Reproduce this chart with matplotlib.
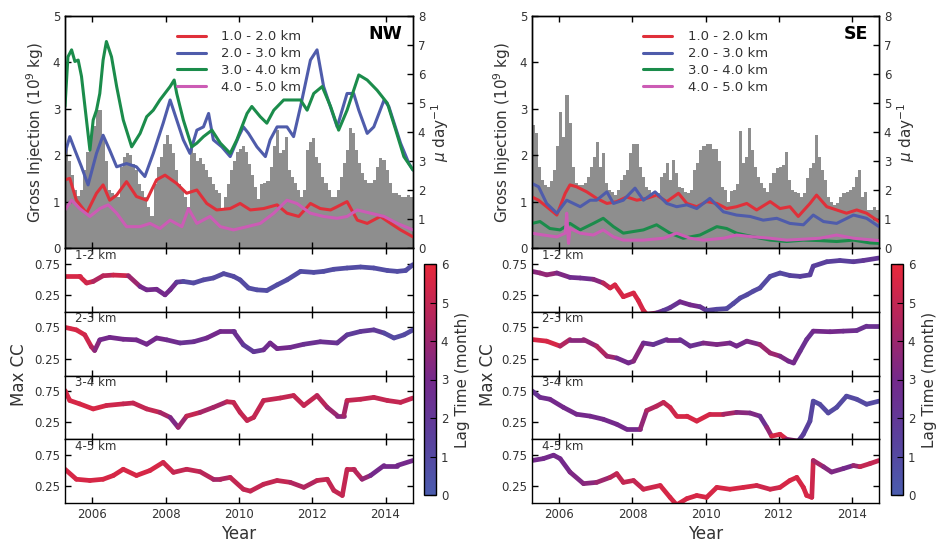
import numpy as np
import matplotlib
matplotlib.use('Agg')
import matplotlib.pyplot as plt
from matplotlib.collections import LineCollection
from matplotlib.colors import LinearSegmentedColormap, Normalize
from matplotlib.cm import ScalarMappable

plt.rcParams['font.family'] = ['DejaVu Sans']

# ---------------- data ----------------
# monthly bars (mu day^-1), Apr 2005 .. Sep 2014
nw_bars = [3.4, 3.0, 2.5, 2.0, 1.8, 2.0, 2.7, 3.3, 3.8,
           4.2, 4.75, 4.75, 3.8, 3.0, 2.0, 1.9, 1.8, 1.75, 2.8, 3.15, 3.26,
           3.2, 2.9, 2.7, 2.2, 1.95, 1.77, 1.4, 1.1, 2.2, 2.8, 3.15, 3.6,
           3.9, 3.6, 3.26, 2.7, 2.2, 2.0, 1.77, 1.4, 3.4, 3.26, 3.0, 3.1,
           2.9, 2.7, 2.46, 2.2, 2.0, 1.9, 1.3, 1.77, 2.2, 2.7, 3.0, 3.3,
           3.4, 3.5, 3.3, 2.9, 2.5, 2.1, 1.7, 2.2, 2.23, 2.3, 2.8, 3.5,
           4.07, 3.26, 3.38, 3.84, 2.7, 2.46, 2.23, 2.0, 1.77, 2.0, 3.38, 3.67,
           3.78, 3.15, 2.92, 2.46, 2.23, 2.0, 1.77, 1.77, 2.0, 2.46, 2.92, 3.38,
           4.13, 3.95, 3.38, 2.92, 2.57, 2.34, 2.23, 2.23, 2.34, 2.8, 3.1, 3.03,
           2.7, 2.23, 1.9, 1.9, 1.83, 1.77, 1.77, 1.83, 1.77]
se_bars = [4.24, 3.95, 2.8, 2.34, 2.17, 2.1, 2.3, 2.7, 3.5,
           4.7, 3.84, 5.28, 4.3, 2.8, 2.23, 2.17, 2.17, 2.23, 2.46, 2.8, 3.15,
           3.67, 2.8, 3.26, 2.23, 2.0, 1.94, 1.83, 2.0, 2.34, 2.52, 2.7, 3.26,
           3.6, 3.6, 2.8, 2.46, 2.1, 2.0, 1.77, 1.77, 1.9, 2.46, 2.57, 2.92,
           2.34, 3.03, 2.57, 2.1, 2.06, 1.94, 1.9, 2.0, 2.7, 2.92, 3.38, 3.5,
           3.6, 3.6, 3.4, 3.4, 3.0, 2.1, 2.0, 1.6, 1.95, 2.0, 2.2, 4.05,
           2.92, 3.15, 4.13, 3.38, 2.8, 2.46, 2.23, 2.06, 1.94, 2.23, 2.57, 2.75,
           2.8, 2.86, 3.32, 2.34, 2.0, 1.94, 1.9, 1.77, 1.9, 2.4, 2.75, 2.92,
           3.9, 3.15, 2.7, 2.34, 1.77, 1.6, 1.48, 1.54, 1.77, 1.9, 1.94, 2.0,
           2.1, 2.46, 2.7, 1.77, 1.94, 1.3, 1.3, 1.43, 1.3]

# gross injection (10^9 kg), NW
nw_yr_1 = [2005.25, 2005.38, 2005.56, 2005.84, 2006.11, 2006.29, 2006.47, 2006.66, 2006.93, 2007.20,
           2007.48, 2007.75, 2007.98, 2008.30, 2008.57, 2008.85, 2009.12, 2009.39, 2009.76, 2010.03,
           2010.31, 2010.67, 2011.04, 2011.31, 2011.63, 2011.95, 2012.22, 2012.50, 2012.68, 2012.95,
           2013.23, 2013.50, 2013.86, 2014.14, 2014.41, 2014.75]
nw_gi_1 = [1.47, 1.5, 1.03, 0.75, 1.18, 1.36, 1.03, 1.14, 1.43, 1.11,
           1.03, 1.47, 1.57, 1.39, 1.18, 1.25, 0.96, 0.82, 0.85, 0.96,
           0.82, 0.85, 0.93, 0.75, 0.68, 0.96, 0.85, 0.82, 0.89, 1.0,
           0.6, 0.53, 0.68, 0.53, 0.39, 0.24]
nw_yr_2 = [2005.25, 2005.38, 2005.52, 2005.70, 2005.88, 2006.11, 2006.29, 2006.47, 2006.66, 2006.93,
           2007.20, 2007.43, 2007.66, 2007.93, 2008.12, 2008.30, 2008.48, 2008.66, 2008.85, 2009.03,
           2009.17, 2009.30, 2009.53, 2009.76, 2009.99, 2010.12, 2010.26, 2010.49, 2010.72, 2010.85,
           2011.04, 2011.31, 2011.49, 2011.68, 2011.95, 2012.13, 2012.31, 2012.68, 2012.95, 2013.13,
           2013.27, 2013.50, 2013.68, 2013.96, 2014.09, 2014.41, 2014.64, 2014.75]
nw_gi_2 = [2.04, 2.4, 2.11, 1.75, 1.36, 2.04, 2.43, 2.11, 1.75, 1.82,
           1.75, 1.54, 2.04, 2.69, 3.19, 2.76, 2.33, 2.04, 2.54, 2.61,
           2.9, 2.33, 2.18, 1.97, 2.4, 2.61, 2.47, 2.18, 1.97, 2.33,
           2.61, 2.61, 2.4, 3.05, 4.05, 4.27, 3.48, 2.61, 3.33, 3.33,
           2.97, 2.47, 2.61, 3.19, 3.05, 2.26, 1.82, 1.68]
nw_yr_3 = [2005.25, 2005.33, 2005.43, 2005.52, 2005.61, 2005.70, 2005.93, 2006.02, 2006.11, 2006.20,
           2006.29, 2006.38, 2006.52, 2006.66, 2006.84, 2007.07, 2007.30, 2007.48, 2007.66, 2007.84,
           2008.12, 2008.23, 2008.30, 2008.48, 2008.71, 2008.85, 2009.03, 2009.26, 2009.49, 2009.76,
           2009.94, 2010.22, 2010.35, 2010.58, 2010.76, 2010.95, 2011.22, 2011.40, 2011.68, 2011.86,
           2012.04, 2012.27, 2012.50, 2012.72, 2012.95, 2013.27, 2013.50, 2013.77, 2014.05, 2014.28,
           2014.50, 2014.75]
nw_gi_3 = [3.05, 4.12, 4.27, 4.02, 4.05, 3.7, 2.11, 2.76, 2.97, 3.33,
           4.05, 4.45, 4.12, 3.48, 2.76, 2.18, 2.47, 2.83, 2.97, 3.19,
           3.48, 3.62, 3.33, 2.76, 2.18, 2.26, 2.4, 2.54, 2.26, 2.04,
           2.33, 2.9, 3.05, 2.83, 2.69, 2.97, 3.19, 3.19, 3.19, 2.97,
           3.33, 3.48, 3.05, 2.54, 2.97, 3.73, 3.62, 3.4, 3.12, 2.54,
           1.97, 1.68]
nw_yr_4 = [2005.25, 2005.43, 2005.65, 2005.93, 2006.20, 2006.43, 2006.66, 2006.93, 2007.30, 2007.57,
           2007.84, 2008.12, 2008.44, 2008.62, 2008.85, 2009.21, 2009.49, 2009.85, 2010.22, 2010.58,
           2010.95, 2011.31, 2011.58, 2011.95, 2012.31, 2012.68, 2012.95, 2013.23, 2013.59, 2013.96,
           2014.32, 2014.75]
nw_gi_4 = [0.82, 1.03, 0.85, 0.68, 0.85, 0.93, 0.75, 0.46, 0.46, 0.53,
           0.42, 0.6, 0.46, 0.85, 0.53, 0.68, 0.46, 0.39, 0.46, 0.53,
           0.75, 1.03, 0.96, 0.75, 0.68, 0.64, 0.68, 0.82, 0.75, 0.68,
           0.53, 0.39]

# gross injection (10^9 kg), SE
se_yr_1 = [2005.25, 2005.43, 2005.65, 2005.93, 2006.16, 2006.29, 2006.47, 2006.75, 2007.02, 2007.30,
           2007.57, 2007.84, 2008.12, 2008.39, 2008.66, 2008.94, 2009.26, 2009.49, 2009.76, 2010.03,
           2010.31, 2010.58, 2010.85, 2011.13, 2011.40, 2011.77, 2012.04, 2012.31, 2012.54, 2012.86,
           2013.04, 2013.32, 2013.59, 2013.86, 2014.14, 2014.41, 2014.75]
se_gi_1 = [1.1, 1.03, 0.89, 0.71, 1.18, 1.36, 1.32, 1.21, 1.07, 0.96,
           1.0, 1.1, 1.03, 1.07, 1.14, 1.0, 1.18, 0.96, 0.89, 1.0,
           0.96, 0.85, 0.89, 0.96, 0.82, 1.0, 0.85, 0.89, 0.68, 0.96,
           1.14, 0.89, 0.82, 0.75, 0.82, 0.75, 0.57]
se_yr_2 = [2005.25, 2005.43, 2005.65, 2005.93, 2006.20, 2006.57, 2006.84, 2007.02, 2007.30, 2007.48,
           2007.75, 2008.07, 2008.30, 2008.62, 2008.94, 2009.21, 2009.49, 2009.76, 2010.12, 2010.49,
           2010.85, 2011.22, 2011.58, 2011.95, 2012.31, 2012.68, 2012.95, 2013.23, 2013.59, 2014.05,
           2014.41, 2014.75]
se_gi_2 = [1.39, 1.32, 0.96, 0.75, 1.03, 0.89, 1.03, 1.03, 1.21, 0.96,
           1.03, 1.29, 1.03, 1.21, 0.96, 0.89, 0.93, 0.85, 1.07, 0.78,
           0.71, 0.68, 0.6, 0.64, 0.53, 0.5, 0.71, 0.57, 0.53, 0.71,
           0.64, 0.46]
se_yr_3 = [2005.25, 2005.47, 2005.74, 2006.02, 2006.29, 2006.57, 2006.93, 2007.20, 2007.48, 2007.75,
           2008.30, 2008.66, 2009.03, 2009.39, 2009.85, 2010.31, 2010.58, 2010.85, 2011.31, 2011.77,
           2012.22, 2012.68, 2013.13, 2013.59, 2014.05, 2014.50, 2014.75]
se_gi_3 = [0.53, 0.57, 0.42, 0.39, 0.53, 0.39, 0.53, 0.64, 0.46, 0.32,
           0.39, 0.5, 0.32, 0.21, 0.28, 0.46, 0.42, 0.32, 0.24, 0.17,
           0.14, 0.17, 0.16, 0.14, 0.17, 0.11, 0.1]
se_yr_4 = [2005.25, 2005.56, 2005.93, 2006.16, 2006.20, 2006.25, 2006.29, 2006.57, 2006.93, 2007.20,
           2007.48, 2007.75, 2008.30, 2008.85, 2009.21, 2009.58, 2009.94, 2010.49, 2010.85, 2011.31,
           2011.77, 2012.22, 2012.68, 2013.13, 2013.59, 2014.05, 2014.75]
se_gi_4 = [0.32, 0.28, 0.24, 0.32, 0.75, 0.1, 0.42, 0.32, 0.28, 0.39,
           0.24, 0.17, 0.17, 0.21, 0.32, 0.21, 0.17, 0.21, 0.28, 0.24,
           0.21, 0.17, 0.19, 0.21, 0.28, 0.21, 0.16]

# max cross-correlation and lag time (month), NW
nw_cc_yr_1 = [2005.25, 2005.65, 2005.84, 2006.02, 2006.29, 2006.57, 2006.98, 2007.30, 2007.48, 2007.75,
              2007.98, 2008.12, 2008.30, 2008.48, 2008.76, 2009.03, 2009.30, 2009.58, 2009.85, 2010.03,
              2010.26, 2010.49, 2010.76, 2011.04, 2011.31, 2011.68, 2012.04, 2012.31, 2012.59, 2012.95,
              2013.32, 2013.68, 2014.05, 2014.32, 2014.55, 2014.75]
nw_cc_1 = [0.546, 0.546, 0.44, 0.465, 0.556, 0.567, 0.556, 0.384, 0.33, 0.34,
           0.25, 0.33, 0.454, 0.465, 0.44, 0.49, 0.52, 0.59, 0.546, 0.49,
           0.36, 0.33, 0.32, 0.41, 0.49, 0.626, 0.61, 0.626, 0.66, 0.68,
           0.696, 0.68, 0.64, 0.626, 0.64, 0.734]
nw_lag_1 = [5.5, 5.5, 5.5, 5.0, 4.0, 5.5, 5.0, 3.0, 3.0, 3.0,
            3.0, 3.0, 2.5, 1.0, 1.0, 1.0, 1.0, 1.0, 1.0, 1.0,
            0.8, 0.8, 0.8, 0.8, 0.8, 0.8, 0.8, 0.8, 0.8, 0.8,
            0.8, 0.8, 0.8, 0.8, 0.8, 0.8]
nw_cc_yr_2 = [2005.25, 2005.56, 2005.79, 2005.97, 2006.06, 2006.20, 2006.47, 2006.84, 2007.20, 2007.48,
              2007.75, 2008.03, 2008.39, 2008.76, 2009.12, 2009.49, 2009.85, 2010.12, 2010.40, 2010.67,
              2010.85, 2011.04, 2011.40, 2011.77, 2012.22, 2012.68, 2012.95, 2013.32, 2013.68, 2013.96,
              2014.23, 2014.50, 2014.75]
nw_cc_2 = [0.75, 0.71, 0.63, 0.44, 0.38, 0.55, 0.59, 0.56, 0.55, 0.48,
           0.58, 0.55, 0.5, 0.52, 0.58, 0.685, 0.685, 0.47, 0.36, 0.39,
           0.5, 0.41, 0.43, 0.48, 0.52, 0.5, 0.63, 0.685, 0.71, 0.66,
           0.58, 0.63, 0.71]
nw_lag_2 = [5.5, 5.5, 5.5, 5.0, 4.0, 3.0, 3.0, 3.0, 3.0, 3.0,
            3.0, 3.0, 2.5, 2.2, 3.0, 3.0, 3.0, 2.0, 1.5, 2.5,
            3.0, 3.0, 3.0, 2.5, 2.5, 2.5, 2.0, 1.5, 2.5, 1.2,
            1.0, 1.0, 1.0]
nw_cc_yr_3 = [2005.25, 2005.38, 2005.65, 2006.02, 2006.38, 2006.84, 2007.11, 2007.48, 2007.84, 2008.12,
              2008.34, 2008.57, 2008.94, 2009.30, 2009.67, 2009.85, 2010.03, 2010.22, 2010.40, 2010.67,
              2011.13, 2011.49, 2011.77, 2012.13, 2012.41, 2012.68, 2012.86, 2012.95, 2013.32, 2013.68,
              2014.05, 2014.41, 2014.75]
nw_cc_3 = [0.76, 0.6, 0.546, 0.465, 0.52, 0.546, 0.56, 0.465, 0.41, 0.33,
           0.17, 0.35, 0.41, 0.49, 0.58, 0.57, 0.41, 0.28, 0.33, 0.6,
           0.64, 0.68, 0.52, 0.68, 0.49, 0.36, 0.36, 0.6, 0.62, 0.65,
           0.6, 0.57, 0.64]
nw_lag_3 = [5.5, 5.5, 5.5, 5.5, 5.5, 5.0, 5.0, 5.0, 5.0, 3.5,
            3.0, 5.0, 5.0, 3.5, 5.0, 5.0, 5.0, 5.0, 5.0, 5.0,
            5.0, 5.0, 5.0, 5.0, 4.5, 3.5, 3.5, 5.0, 5.0, 5.0,
            5.0, 5.0, 5.0]
nw_cc_yr_4 = [2005.25, 2005.56, 2005.93, 2006.29, 2006.57, 2006.84, 2007.20, 2007.57, 2007.93, 2008.21,
              2008.57, 2008.94, 2009.30, 2009.49, 2009.76, 2010.12, 2010.31, 2010.67, 2011.04, 2011.40,
              2011.77, 2012.13, 2012.41, 2012.59, 2012.82, 2012.95, 2013.13, 2013.36, 2013.59, 2013.96,
              2014.32, 2014.75]
nw_cc_4 = [0.52, 0.36, 0.34, 0.36, 0.42, 0.52, 0.42, 0.5, 0.63, 0.47,
           0.52, 0.48, 0.36, 0.36, 0.39, 0.2, 0.17, 0.28, 0.34, 0.31,
           0.23, 0.34, 0.36, 0.18, 0.1, 0.52, 0.52, 0.36, 0.42, 0.58,
           0.58, 0.66]
nw_lag_4 = [5.5, 5.5, 5.5, 5.5, 5.5, 5.5, 5.5, 5.5, 5.5, 5.0,
            5.0, 5.0, 4.5, 4.0, 5.0, 5.0, 5.0, 5.0, 5.0, 5.0,
            4.0, 5.0, 5.0, 5.0, 5.0, 5.0, 5.0, 4.5, 3.0, 3.0,
            3.0, 3.0]

# max cross-correlation and lag time (month), SE
se_cc_yr_1 = [2005.25, 2005.47, 2005.65, 2005.93, 2006.29, 2006.57, 2006.93, 2007.20, 2007.39, 2007.52,
              2007.75, 2008.03, 2008.16, 2008.30, 2008.39, 2008.66, 2008.85, 2009.03, 2009.30, 2009.58,
              2009.85, 2010.03, 2010.31, 2010.58, 2010.76, 2010.95, 2011.13, 2011.31, 2011.49, 2011.77,
              2012.04, 2012.31, 2012.59, 2012.86, 2012.95, 2013.32, 2013.68, 2014.05, 2014.32, 2014.75]
se_cc_1 = [0.626, 0.6, 0.57, 0.6, 0.53, 0.52, 0.5, 0.44, 0.36, 0.41,
           0.22, 0.28, 0.16, 0.0, -0.06, -0.04, 0.0, 0.045, 0.14, 0.09,
           0.06, 0.0, 0.02, 0.03, 0.11, 0.2, 0.25, 0.31, 0.36, 0.546,
           0.6, 0.56, 0.546, 0.57, 0.71, 0.78, 0.8, 0.78, 0.8, 0.84]
se_lag_1 = [3.5, 3.5, 4.0, 3.5, 3.0, 2.5, 3.0, 4.0, 5.5, 5.5,
            5.5, 5.5, 5.5, 5.5, 5.5, 3.0, 2.0, 1.5, 3.0, 3.0,
            3.0, 1.5, 1.2, 1.0, 1.0, 1.0, 1.0, 1.0, 1.0, 1.0,
            1.0, 1.2, 1.5, 1.5, 1.5, 1.5, 1.5, 1.5, 2.0, 2.0]
se_cc_yr_2 = [2005.25, 2005.65, 2006.02, 2006.29, 2006.66, 2007.02, 2007.30, 2007.57, 2007.89, 2008.03,
              2008.30, 2008.57, 2008.94, 2009.30, 2009.58, 2009.94, 2010.31, 2010.67, 2010.85, 2011.13,
              2011.49, 2011.77, 2012.04, 2012.27, 2012.41, 2012.59, 2012.77, 2012.95, 2013.41, 2013.77,
              2014.14, 2014.41, 2014.75]
se_cc_2 = [0.556, 0.53, 0.45, 0.556, 0.556, 0.45, 0.29, 0.26, 0.18, 0.21,
           0.5, 0.475, 0.556, 0.556, 0.45, 0.5, 0.475, 0.5, 0.45, 0.53,
           0.475, 0.34, 0.29, 0.21, 0.18, 0.37, 0.556, 0.69, 0.68, 0.69,
           0.7, 0.77, 0.77]
se_lag_2 = [5.5, 5.5, 5.5, 3.5, 3.5, 4.0, 5.0, 3.0, 3.0, 3.0,
            4.0, 1.5, 3.0, 3.0, 2.0, 3.0, 3.5, 3.0, 3.0, 3.0,
            3.5, 4.5, 3.5, 3.0, 3.0, 3.0, 2.0, 3.0, 3.0, 3.0,
            2.5, 2.5, 2.5]
se_cc_yr_3 = [2005.25, 2005.47, 2005.74, 2006.11, 2006.47, 2006.84, 2007.20, 2007.57, 2007.84, 2008.21,
              2008.39, 2008.66, 2008.85, 2009.03, 2009.21, 2009.49, 2009.76, 2010.12, 2010.49, 2010.85,
              2011.22, 2011.49, 2011.68, 2011.81, 2012.04, 2012.22, 2012.54, 2012.68, 2012.86, 2012.95,
              2013.13, 2013.36, 2013.59, 2013.86, 2014.14, 2014.41, 2014.75]
se_cc_3 = [0.755, 0.65, 0.62, 0.49, 0.38, 0.35, 0.3, 0.22, 0.14, 0.14,
           0.44, 0.51, 0.57, 0.49, 0.35, 0.35, 0.27, 0.38, 0.38, 0.41,
           0.4, 0.35, 0.17, 0.03, 0.06, -0.02, -0.05, 0.06, 0.27, 0.59,
           0.54, 0.4, 0.49, 0.67, 0.62, 0.54, 0.59]
se_lag_3 = [2.0, 2.5, 3.0, 3.0, 3.0, 3.0, 3.0, 3.0, 3.0, 3.0,
            4.5, 4.5, 5.0, 5.0, 5.5, 5.5, 5.5, 5.5, 5.0, 3.5,
            3.5, 3.0, 2.0, 5.5, 5.5, 5.5, 2.0, 1.5, 1.5, 1.0,
            1.0, 1.0, 1.0, 1.0, 1.0, 1.0, 1.0]
se_cc_yr_4 = [2005.25, 2005.56, 2005.84, 2006.02, 2006.29, 2006.66, 2007.02, 2007.39, 2007.57, 2007.75,
              2008.03, 2008.30, 2008.76, 2009.03, 2009.21, 2009.49, 2009.76, 2010.03, 2010.31, 2010.67,
              2011.04, 2011.40, 2011.77, 2012.04, 2012.31, 2012.50, 2012.68, 2012.77, 2012.91, 2012.95,
              2013.23, 2013.45, 2013.77, 2014.05, 2014.23, 2014.50, 2014.75]
se_cc_4 = [0.66, 0.69, 0.745, 0.69, 0.475, 0.29, 0.31, 0.39, 0.45, 0.31,
           0.34, 0.2, 0.26, 0.07, -0.05, 0.05, 0.1, 0.07, 0.23, 0.2,
           0.23, 0.26, 0.2, 0.23, 0.34, 0.39, 0.23, 0.1, 0.07, 0.66,
           0.56, 0.475, 0.53, 0.58, 0.56, 0.61, 0.66]
se_lag_4 = [3.0, 3.0, 3.0, 3.0, 3.0, 3.5, 3.5, 4.5, 5.0, 5.0,
            5.0, 5.0, 5.5, 5.5, 5.5, 5.5, 5.5, 5.5, 5.5, 5.5,
            5.5, 5.5, 5.0, 5.5, 5.5, 5.5, 5.5, 5.5, 5.5, 5.0,
            3.5, 3.5, 3.0, 3.0, 5.0, 5.0, 5.0]

depth_labels = ['1.0 - 2.0 km', '2.0 - 3.0 km', '3.0 - 4.0 km', '4.0 - 5.0 km']
panel_labels = ['1-2 km', '2-3 km', '3-4 km', '4-5 km']
line_colors = ['#e0303a', '#4f5cab', '#1b8c4b', '#cc5cb5']
year_ticks = [2006, 2008, 2010, 2012, 2014]

# ---------------- figure ----------------
W, H = 939, 543
fig = plt.figure(figsize=(W / 100, H / 100), dpi=100)

cmap = LinearSegmentedColormap.from_list(
    'lag', ['#4a5cae', '#5a409c', '#74298b', '#b0265f', '#e8283a'])
norm = Normalize(0, 6)
TXT = '#333333'


def box(x0, y0, x1, y1):
    return [x0 / W, 1 - y1 / H, (x1 - x0) / W, (y1 - y0) / H]


def style(ax, **kw):
    ax.tick_params(direction='in', length=4, width=1, labelsize=8.5,
                   labelcolor=TXT, **kw)
    for s in ax.spines.values():
        s.set_linewidth(1)


def draw_region(x0, x1, cbx, tag, bars, gi, cc, mcx):
    # top panel
    ax = fig.add_axes(box(x0, 16, x1, 248))
    axr = ax.twinx()
    months = 2005.25 + np.arange(len(bars)) / 12
    axr.bar(months, bars, width=1 / 12, align='edge', color='#8e8e8e', lw=0)
    axr.set_ylim(0, 8)
    axr.set_yticks(range(9))
    axr.set_ylabel(r'$\mu$ day$^{-1}$', fontsize=11, color=TXT, labelpad=3)
    style(axr)
    ax.set_zorder(axr.get_zorder() + 1)
    ax.patch.set_visible(False)
    for (yrs, vals), c, lab in zip(gi, line_colors, depth_labels):
        ax.plot(yrs, vals, color=c, lw=2.2, label=lab, solid_capstyle='round')
    ax.set_xlim(2005.25, 2014.75)
    ax.set_ylim(0, 5)
    ax.set_yticks(range(6))
    ax.set_xticks(year_ticks)
    ax.set_xticklabels([])
    style(ax, top=True)
    ax.set_ylabel(r'Gross Injection (10$^9$ kg)', fontsize=11, color=TXT, labelpad=5)
    ax.legend(loc='upper center', bbox_to_anchor=(0.5, 0.99), frameon=False,
              fontsize=9.5, handlelength=2.2, handletextpad=1.2, labelspacing=0.3,
              labelcolor=TXT)
    ax.text(0.97, 0.96, tag, transform=ax.transAxes, ha='right', va='top',
            fontsize=12.5, fontweight='bold')

    # cross-correlation panels
    hh = 255 / 4
    for i, ((yrs, vals, lag), name) in enumerate(zip(cc, panel_labels)):
        axc = fig.add_axes(box(x0, 248 + i * hh, x1, 248 + (i + 1) * hh))
        pts = np.column_stack([yrs, vals])
        segs = np.stack([pts[:-1], pts[1:]], axis=1)
        lag = np.asarray(lag)
        lc = LineCollection(segs, cmap=cmap, norm=norm, linewidths=3.4,
                            capstyle='round', joinstyle='round')
        lc.set_array((lag[:-1] + lag[1:]) / 2)
        axc.add_collection(lc)
        axc.set_xlim(2005.25, 2014.75)
        axc.set_ylim(-0.02, 1.0)
        axc.set_yticks([0.25, 0.75])
        axc.set_xticks(year_ticks)
        style(axc, top=True, right=True)
        axc.text(0.03, 0.99, name, transform=axc.transAxes, ha='left', va='top',
                 fontsize=8.5, color=TXT)
        if i < 3:
            axc.set_xticklabels([])
        else:
            axc.set_xlabel('Year', fontsize=12, color=TXT, labelpad=3)
    fig.text(mcx / W, 1 - 375 / H, 'Max CC', rotation=90, ha='center',
             va='center', fontsize=12, color=TXT)

    cax = fig.add_axes(box(cbx, 264, cbx + 12, 495))
    cb = fig.colorbar(ScalarMappable(norm=norm, cmap=cmap), cax=cax,
                      ticks=range(7))
    cb.outline.set_linewidth(1)
    cax.tick_params(direction='in', length=4, labelsize=8.5, labelcolor=TXT)
    cb.set_label('Lag Time (month)', fontsize=11, color=TXT, labelpad=5)


draw_region(65, 413, 424, 'NW', nw_bars,
            [(nw_yr_1, nw_gi_1), (nw_yr_2, nw_gi_2), (nw_yr_3, nw_gi_3), (nw_yr_4, nw_gi_4)],
            [(nw_cc_yr_1, nw_cc_1, nw_lag_1), (nw_cc_yr_2, nw_cc_2, nw_lag_2),
             (nw_cc_yr_3, nw_cc_3, nw_lag_3), (nw_cc_yr_4, nw_cc_4, nw_lag_4)], 19)
draw_region(532, 879, 891, 'SE', se_bars,
            [(se_yr_1, se_gi_1), (se_yr_2, se_gi_2), (se_yr_3, se_gi_3), (se_yr_4, se_gi_4)],
            [(se_cc_yr_1, se_cc_1, se_lag_1), (se_cc_yr_2, se_cc_2, se_lag_2),
             (se_cc_yr_3, se_cc_3, se_lag_3), (se_cc_yr_4, se_cc_4, se_lag_4)], 488)

fig.savefig('out.png', dpi=100)
